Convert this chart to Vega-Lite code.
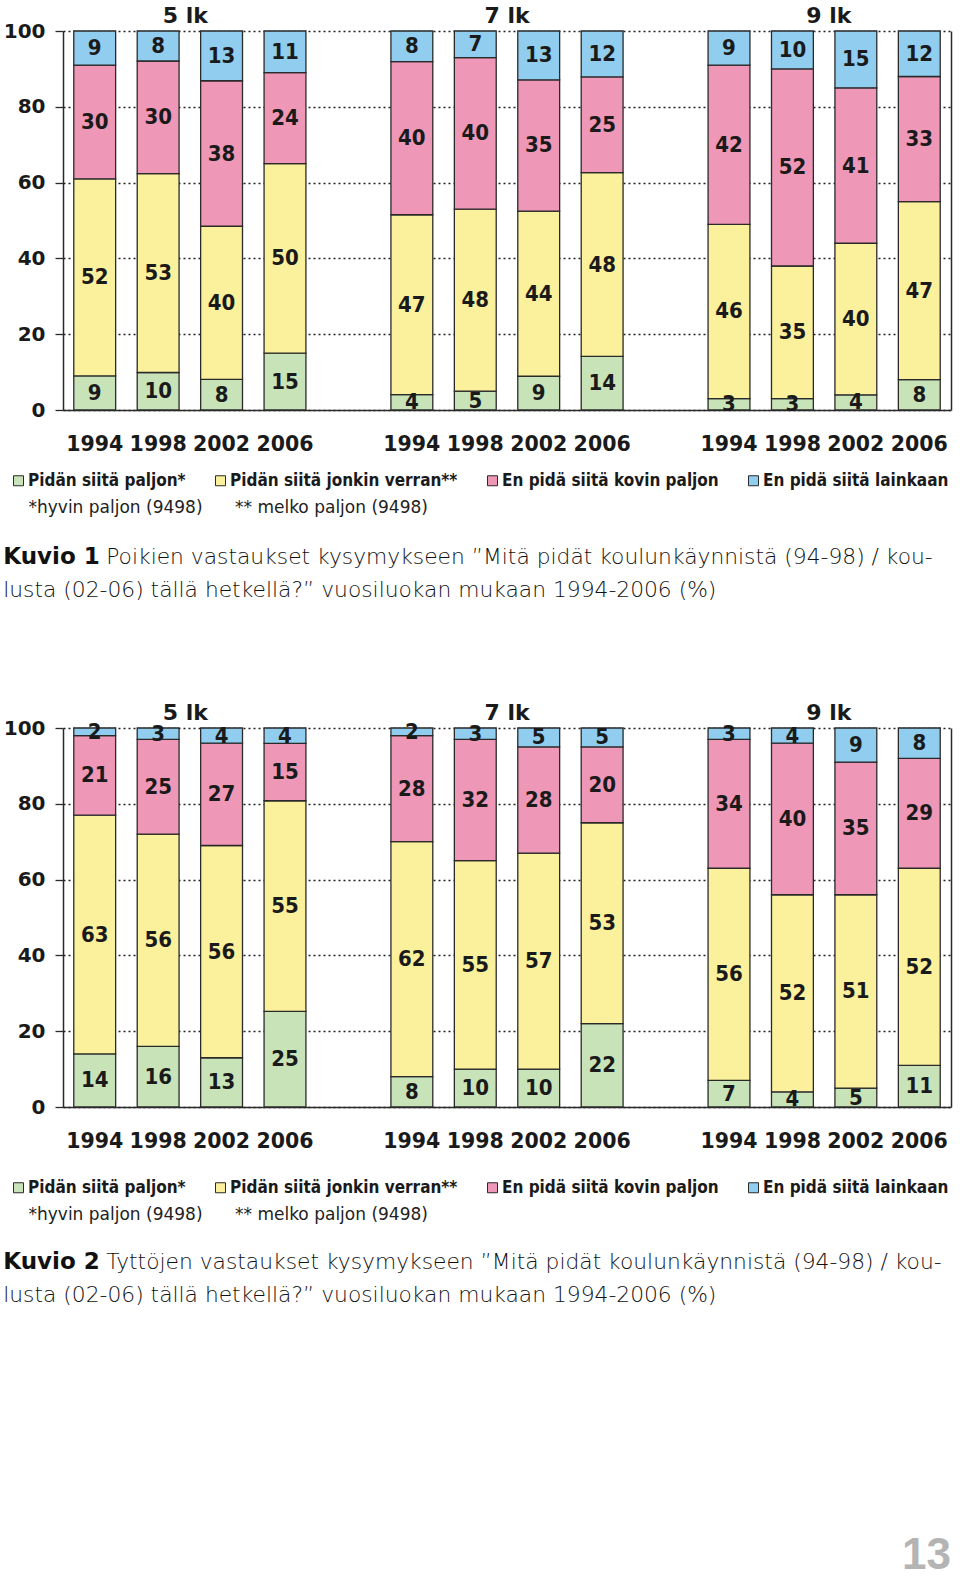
{
  "$schema": "https://vega.github.io/schema/vega-lite/v6.json",
  "background": "white",
  "padding": {"left": 3, "top": 5, "right": 5, "bottom": 5},
  "datasets": {
    "survey": [
      {"section":1,"grade":5,"year":1994,"cat":"Pidän siitä paljon*","value":9},
      {"section":1,"grade":5,"year":1994,"cat":"Pidän siitä jonkin verran**","value":52},
      {"section":1,"grade":5,"year":1994,"cat":"En pidä siitä kovin paljon","value":30},
      {"section":1,"grade":5,"year":1994,"cat":"En pidä siitä lainkaan","value":9},
      {"section":1,"grade":5,"year":1998,"cat":"Pidän siitä paljon*","value":10},
      {"section":1,"grade":5,"year":1998,"cat":"Pidän siitä jonkin verran**","value":53},
      {"section":1,"grade":5,"year":1998,"cat":"En pidä siitä kovin paljon","value":30},
      {"section":1,"grade":5,"year":1998,"cat":"En pidä siitä lainkaan","value":8},
      {"section":1,"grade":5,"year":2002,"cat":"Pidän siitä paljon*","value":8},
      {"section":1,"grade":5,"year":2002,"cat":"Pidän siitä jonkin verran**","value":40},
      {"section":1,"grade":5,"year":2002,"cat":"En pidä siitä kovin paljon","value":38},
      {"section":1,"grade":5,"year":2002,"cat":"En pidä siitä lainkaan","value":13},
      {"section":1,"grade":5,"year":2006,"cat":"Pidän siitä paljon*","value":15},
      {"section":1,"grade":5,"year":2006,"cat":"Pidän siitä jonkin verran**","value":50},
      {"section":1,"grade":5,"year":2006,"cat":"En pidä siitä kovin paljon","value":24},
      {"section":1,"grade":5,"year":2006,"cat":"En pidä siitä lainkaan","value":11},
      {"section":1,"grade":7,"year":1994,"cat":"Pidän siitä paljon*","value":4},
      {"section":1,"grade":7,"year":1994,"cat":"Pidän siitä jonkin verran**","value":47},
      {"section":1,"grade":7,"year":1994,"cat":"En pidä siitä kovin paljon","value":40},
      {"section":1,"grade":7,"year":1994,"cat":"En pidä siitä lainkaan","value":8},
      {"section":1,"grade":7,"year":1998,"cat":"Pidän siitä paljon*","value":5},
      {"section":1,"grade":7,"year":1998,"cat":"Pidän siitä jonkin verran**","value":48},
      {"section":1,"grade":7,"year":1998,"cat":"En pidä siitä kovin paljon","value":40},
      {"section":1,"grade":7,"year":1998,"cat":"En pidä siitä lainkaan","value":7},
      {"section":1,"grade":7,"year":2002,"cat":"Pidän siitä paljon*","value":9},
      {"section":1,"grade":7,"year":2002,"cat":"Pidän siitä jonkin verran**","value":44},
      {"section":1,"grade":7,"year":2002,"cat":"En pidä siitä kovin paljon","value":35},
      {"section":1,"grade":7,"year":2002,"cat":"En pidä siitä lainkaan","value":13},
      {"section":1,"grade":7,"year":2006,"cat":"Pidän siitä paljon*","value":14},
      {"section":1,"grade":7,"year":2006,"cat":"Pidän siitä jonkin verran**","value":48},
      {"section":1,"grade":7,"year":2006,"cat":"En pidä siitä kovin paljon","value":25},
      {"section":1,"grade":7,"year":2006,"cat":"En pidä siitä lainkaan","value":12},
      {"section":1,"grade":9,"year":1994,"cat":"Pidän siitä paljon*","value":3},
      {"section":1,"grade":9,"year":1994,"cat":"Pidän siitä jonkin verran**","value":46},
      {"section":1,"grade":9,"year":1994,"cat":"En pidä siitä kovin paljon","value":42},
      {"section":1,"grade":9,"year":1994,"cat":"En pidä siitä lainkaan","value":9},
      {"section":1,"grade":9,"year":1998,"cat":"Pidän siitä paljon*","value":3},
      {"section":1,"grade":9,"year":1998,"cat":"Pidän siitä jonkin verran**","value":35},
      {"section":1,"grade":9,"year":1998,"cat":"En pidä siitä kovin paljon","value":52},
      {"section":1,"grade":9,"year":1998,"cat":"En pidä siitä lainkaan","value":10},
      {"section":1,"grade":9,"year":2002,"cat":"Pidän siitä paljon*","value":4},
      {"section":1,"grade":9,"year":2002,"cat":"Pidän siitä jonkin verran**","value":40},
      {"section":1,"grade":9,"year":2002,"cat":"En pidä siitä kovin paljon","value":41},
      {"section":1,"grade":9,"year":2002,"cat":"En pidä siitä lainkaan","value":15},
      {"section":1,"grade":9,"year":2006,"cat":"Pidän siitä paljon*","value":8},
      {"section":1,"grade":9,"year":2006,"cat":"Pidän siitä jonkin verran**","value":47},
      {"section":1,"grade":9,"year":2006,"cat":"En pidä siitä kovin paljon","value":33},
      {"section":1,"grade":9,"year":2006,"cat":"En pidä siitä lainkaan","value":12},
      {"section":2,"grade":5,"year":1994,"cat":"Pidän siitä paljon*","value":14},
      {"section":2,"grade":5,"year":1994,"cat":"Pidän siitä jonkin verran**","value":63},
      {"section":2,"grade":5,"year":1994,"cat":"En pidä siitä kovin paljon","value":21},
      {"section":2,"grade":5,"year":1994,"cat":"En pidä siitä lainkaan","value":2},
      {"section":2,"grade":5,"year":1998,"cat":"Pidän siitä paljon*","value":16},
      {"section":2,"grade":5,"year":1998,"cat":"Pidän siitä jonkin verran**","value":56},
      {"section":2,"grade":5,"year":1998,"cat":"En pidä siitä kovin paljon","value":25},
      {"section":2,"grade":5,"year":1998,"cat":"En pidä siitä lainkaan","value":3},
      {"section":2,"grade":5,"year":2002,"cat":"Pidän siitä paljon*","value":13},
      {"section":2,"grade":5,"year":2002,"cat":"Pidän siitä jonkin verran**","value":56},
      {"section":2,"grade":5,"year":2002,"cat":"En pidä siitä kovin paljon","value":27},
      {"section":2,"grade":5,"year":2002,"cat":"En pidä siitä lainkaan","value":4},
      {"section":2,"grade":5,"year":2006,"cat":"Pidän siitä paljon*","value":25},
      {"section":2,"grade":5,"year":2006,"cat":"Pidän siitä jonkin verran**","value":55},
      {"section":2,"grade":5,"year":2006,"cat":"En pidä siitä kovin paljon","value":15},
      {"section":2,"grade":5,"year":2006,"cat":"En pidä siitä lainkaan","value":4},
      {"section":2,"grade":7,"year":1994,"cat":"Pidän siitä paljon*","value":8},
      {"section":2,"grade":7,"year":1994,"cat":"Pidän siitä jonkin verran**","value":62},
      {"section":2,"grade":7,"year":1994,"cat":"En pidä siitä kovin paljon","value":28},
      {"section":2,"grade":7,"year":1994,"cat":"En pidä siitä lainkaan","value":2},
      {"section":2,"grade":7,"year":1998,"cat":"Pidän siitä paljon*","value":10},
      {"section":2,"grade":7,"year":1998,"cat":"Pidän siitä jonkin verran**","value":55},
      {"section":2,"grade":7,"year":1998,"cat":"En pidä siitä kovin paljon","value":32},
      {"section":2,"grade":7,"year":1998,"cat":"En pidä siitä lainkaan","value":3},
      {"section":2,"grade":7,"year":2002,"cat":"Pidän siitä paljon*","value":10},
      {"section":2,"grade":7,"year":2002,"cat":"Pidän siitä jonkin verran**","value":57},
      {"section":2,"grade":7,"year":2002,"cat":"En pidä siitä kovin paljon","value":28},
      {"section":2,"grade":7,"year":2002,"cat":"En pidä siitä lainkaan","value":5},
      {"section":2,"grade":7,"year":2006,"cat":"Pidän siitä paljon*","value":22},
      {"section":2,"grade":7,"year":2006,"cat":"Pidän siitä jonkin verran**","value":53},
      {"section":2,"grade":7,"year":2006,"cat":"En pidä siitä kovin paljon","value":20},
      {"section":2,"grade":7,"year":2006,"cat":"En pidä siitä lainkaan","value":5},
      {"section":2,"grade":9,"year":1994,"cat":"Pidän siitä paljon*","value":7},
      {"section":2,"grade":9,"year":1994,"cat":"Pidän siitä jonkin verran**","value":56},
      {"section":2,"grade":9,"year":1994,"cat":"En pidä siitä kovin paljon","value":34},
      {"section":2,"grade":9,"year":1994,"cat":"En pidä siitä lainkaan","value":3},
      {"section":2,"grade":9,"year":1998,"cat":"Pidän siitä paljon*","value":4},
      {"section":2,"grade":9,"year":1998,"cat":"Pidän siitä jonkin verran**","value":52},
      {"section":2,"grade":9,"year":1998,"cat":"En pidä siitä kovin paljon","value":40},
      {"section":2,"grade":9,"year":1998,"cat":"En pidä siitä lainkaan","value":4},
      {"section":2,"grade":9,"year":2002,"cat":"Pidän siitä paljon*","value":5},
      {"section":2,"grade":9,"year":2002,"cat":"Pidän siitä jonkin verran**","value":51},
      {"section":2,"grade":9,"year":2002,"cat":"En pidä siitä kovin paljon","value":35},
      {"section":2,"grade":9,"year":2002,"cat":"En pidä siitä lainkaan","value":9},
      {"section":2,"grade":9,"year":2006,"cat":"Pidän siitä paljon*","value":11},
      {"section":2,"grade":9,"year":2006,"cat":"Pidän siitä jonkin verran**","value":52},
      {"section":2,"grade":9,"year":2006,"cat":"En pidä siitä kovin paljon","value":29},
      {"section":2,"grade":9,"year":2006,"cat":"En pidä siitä lainkaan","value":8}
    ]
  },
  "title": {"text": "13", "orient": "bottom", "anchor": "end", "frame": "bounds", "font": "Liberation Sans", "fontWeight": "bold", "fontSize": 44, "color": "#b4b4b4", "offset": 227},
  "spacing": 100,
  "resolve": {"scale": {"color": "independent"}, "legend": {"color": "independent"}},
  "vconcat": [
    {
      "title": {"text": "Kuvio 1", "subtitle": "lusta (02-06) tällä hetkellä?” vuosiluokan mukaan 1994-2006 (%)", "orient": "bottom", "anchor": "start", "frame": "bounds", "font": "DejaVu Sans", "fontWeight": "bold", "fontSize": 23, "color": "#111111", "subtitleFont": "DejaVu Sans", "subtitleFontWeight": 200, "subtitleFontSize": 21.8, "subtitleColor": "#111111", "subtitlePadding": 11, "offset": -23},
      "resolve": {"scale": {"color": "independent"}, "legend": {"color": "independent"}},
      "vconcat": [
        {
          "width": 888,
          "height": 379,
          "title": {"text": "Poikien vastaukset kysymykseen ”Mitä pidät koulunkäynnistä (94-98) / kou-", "orient": "bottom", "anchor": "start", "frame": "bounds", "dx": 103, "font": "DejaVu Sans", "fontWeight": 200, "fontSize": 21.8, "color": "#111111", "offset": 32},
          "layer": [
            {
              "data": {"name": "survey"},
              "transform": [
                {"filter": "datum.section == 1"},
                {"calculate": "datum.grade + '-' + datum.year", "as": "slot"},
                {"calculate": "indexof(['Pidän siitä paljon*','Pidän siitä jonkin verran**','En pidä siitä kovin paljon','En pidä siitä lainkaan'], datum.cat)", "as": "ord"},
                {"stack": "value", "groupby": ["slot"], "sort": [{"field": "ord", "order": "ascending"}], "offset": "normalize", "as": ["v0", "v1"]}
              ],
              "mark": {"type": "bar", "stroke": "#2a2a2a", "strokeWidth": 1.3},
              "encoding": {
                "x": {"field": "slot", "type": "nominal",
                  "scale": {"type": "band", "domain": ["5-1994","5-1998","5-2002","5-2006","g1","7-1994","7-1998","7-2002","7-2006","g2","9-1994","9-1998","9-2002","9-2006"], "paddingInner": 0.34, "paddingOuter": 0.17},
                  "axis": {"labelExpr": "length(datum.value) > 2 ? slice(datum.value, 2) : ''", "labelAngle": 0, "labelFont": "DejaVu Sans", "labelFontWeight": "bold", "labelFontSize": 20.5, "labelColor": "#1a1a1a", "labelPadding": 24, "ticks": false, "domainColor": "#2a2a2a", "domainWidth": 1.5,
                    "title": "*hyvin paljon (9498)\u00a0\u00a0\u00a0\u00a0\u00a0\u00a0** melko paljon (9498)", "titleFont": "DejaVu Sans", "titleFontWeight": "normal", "titleFontSize": 17, "titleColor": "#222222", "titleAlign": "left", "titleBaseline": "alphabetic", "titleX": -35, "titleY": 102}},
                "y": {"field": "v0", "type": "quantitative", "scale": {"domain": [0, 1], "nice": false},
                  "axis": {"orient": "left", "values": [0, 0.2, 0.4, 0.6, 0.8, 1], "labelExpr": "round(datum.value * 100)", "labelFont": "DejaVu Sans", "labelFontWeight": "bold", "labelFontSize": 20, "labelColor": "#1a1a1a", "tickSize": 8, "tickColor": "#2a2a2a", "tickWidth": 1.3, "labelPadding": 10, "domainColor": "#2a2a2a", "domainWidth": 1.5, "grid": true, "gridDash": [2, 3], "gridColor": "#222222", "gridWidth": 1.3, "title": null}},
                "y2": {"field": "v1"},
                "color": {"field": "cat", "type": "nominal",
                  "scale": {"domain": ["Pidän siitä paljon*","Pidän siitä jonkin verran**","En pidä siitä kovin paljon","En pidä siitä lainkaan"], "range": ["#c9e3b9", "#fbf09b", "#ee97b6", "#90cdee"]},
                  "legend": {"orient": "none", "legendX": -53, "legendY": 441, "direction": "horizontal", "columns": 4, "title": null, "symbolType": "square", "symbolSize": 100, "symbolStrokeColor": "#2a2a2a", "symbolStrokeWidth": 1, "symbolOpacity": 1, "labelFont": "DejaVu Sans Condensed, DejaVu Sans", "labelFontWeight": "bold", "labelFontSize": 17, "labelColor": "#1a1a1a", "columnPadding": 26, "labelOffset": 1, "padding": 0, "labelLimit": 400}}
              }
            },
            {
              "data": {"name": "survey"},
              "transform": [
                {"filter": "datum.section == 1"},
                {"calculate": "datum.grade + '-' + datum.year", "as": "slot"},
                {"calculate": "indexof(['Pidän siitä paljon*','Pidän siitä jonkin verran**','En pidä siitä kovin paljon','En pidä siitä lainkaan'], datum.cat)", "as": "ord"},
                {"stack": "value", "groupby": ["slot"], "sort": [{"field": "ord", "order": "ascending"}], "offset": "normalize", "as": ["v0", "v1"]},
                {"calculate": "(datum.v0 + datum.v1) / 2", "as": "mid"}
              ],
              "mark": {"type": "text", "font": "DejaVu Sans Condensed, DejaVu Sans", "fontWeight": "bold", "fontSize": 22, "color": "#1a1a1a", "baseline": "middle"},
              "encoding": {
                "x": {"field": "slot", "type": "nominal",
                  "scale": {"type": "band", "domain": ["5-1994","5-1998","5-2002","5-2006","g1","7-1994","7-1998","7-2002","7-2006","g2","9-1994","9-1998","9-2002","9-2006"], "paddingInner": 0.34, "paddingOuter": 0.17},
                  "axis": null},
                "y": {"field": "mid", "type": "quantitative", "scale": {"domain": [0, 1], "nice": false},
                  "axis": {"orient": "right", "labels": false, "ticks": false, "grid": false, "domainColor": "#2a2a2a", "domainWidth": 1.5, "title": null}},
                "text": {"field": "value", "type": "quantitative"}
              }
            },
            {
              "data": {"values": [{"grade": "5 lk"}, {"grade": "7 lk"}, {"grade": "9 lk"}]},
              "mark": {"type": "text", "font": "DejaVu Sans", "fontWeight": "bold", "fontSize": 22, "color": "#1a1a1a", "baseline": "alphabetic", "dy": -8},
              "encoding": {
                "x": {"field": "grade", "type": "nominal", "scale": {"type": "point", "padding": 0.38}, "axis": null},
                "y": {"datum": 1, "type": "quantitative", "axis": null},
                "text": {"field": "grade"}
              }
            }
          ],
          "resolve": {"scale": {"x": "independent"}, "axis": {"y": "independent"}}
        }
      ]
    },
    {
      "title": {"text": "Kuvio 2", "subtitle": "lusta (02-06) tällä hetkellä?” vuosiluokan mukaan 1994-2006 (%)", "orient": "bottom", "anchor": "start", "frame": "bounds", "font": "DejaVu Sans", "fontWeight": "bold", "fontSize": 23, "color": "#111111", "subtitleFont": "DejaVu Sans", "subtitleFontWeight": 200, "subtitleFontSize": 21.8, "subtitleColor": "#111111", "subtitlePadding": 11, "offset": -23},
      "resolve": {"scale": {"color": "independent"}, "legend": {"color": "independent"}},
      "vconcat": [
        {
          "width": 888,
          "height": 379,
          "title": {"text": "Tyttöjen vastaukset kysymykseen ”Mitä pidät koulunkäynnistä (94-98) / kou-", "orient": "bottom", "anchor": "start", "frame": "bounds", "dx": 103, "font": "DejaVu Sans", "fontWeight": 200, "fontSize": 21.8, "color": "#111111", "offset": 30},
          "layer": [
            {
              "data": {"name": "survey"},
              "transform": [
                {"filter": "datum.section == 2"},
                {"calculate": "datum.grade + '-' + datum.year", "as": "slot"},
                {"calculate": "indexof(['Pidän siitä paljon*','Pidän siitä jonkin verran**','En pidä siitä kovin paljon','En pidä siitä lainkaan'], datum.cat)", "as": "ord"},
                {"stack": "value", "groupby": ["slot"], "sort": [{"field": "ord", "order": "ascending"}], "offset": "normalize", "as": ["v0", "v1"]}
              ],
              "mark": {"type": "bar", "stroke": "#2a2a2a", "strokeWidth": 1.3},
              "encoding": {
                "x": {"field": "slot", "type": "nominal",
                  "scale": {"type": "band", "domain": ["5-1994","5-1998","5-2002","5-2006","g1","7-1994","7-1998","7-2002","7-2006","g2","9-1994","9-1998","9-2002","9-2006"], "paddingInner": 0.34, "paddingOuter": 0.17},
                  "axis": {"labelExpr": "length(datum.value) > 2 ? slice(datum.value, 2) : ''", "labelAngle": 0, "labelFont": "DejaVu Sans", "labelFontWeight": "bold", "labelFontSize": 20.5, "labelColor": "#1a1a1a", "labelPadding": 24, "ticks": false, "domainColor": "#2a2a2a", "domainWidth": 1.5,
                    "title": "*hyvin paljon (9498)\u00a0\u00a0\u00a0\u00a0\u00a0\u00a0** melko paljon (9498)", "titleFont": "DejaVu Sans", "titleFontWeight": "normal", "titleFontSize": 17, "titleColor": "#222222", "titleAlign": "left", "titleBaseline": "alphabetic", "titleX": -35, "titleY": 112}},
                "y": {"field": "v0", "type": "quantitative", "scale": {"domain": [0, 1], "nice": false},
                  "axis": {"orient": "left", "values": [0, 0.2, 0.4, 0.6, 0.8, 1], "labelExpr": "round(datum.value * 100)", "labelFont": "DejaVu Sans", "labelFontWeight": "bold", "labelFontSize": 20, "labelColor": "#1a1a1a", "tickSize": 8, "tickColor": "#2a2a2a", "tickWidth": 1.3, "labelPadding": 10, "domainColor": "#2a2a2a", "domainWidth": 1.5, "grid": true, "gridDash": [2, 3], "gridColor": "#222222", "gridWidth": 1.3, "title": null}},
                "y2": {"field": "v1"},
                "color": {"field": "cat", "type": "nominal",
                  "scale": {"domain": ["Pidän siitä paljon*","Pidän siitä jonkin verran**","En pidä siitä kovin paljon","En pidä siitä lainkaan"], "range": ["#c9e3b9", "#fbf09b", "#ee97b6", "#90cdee"]},
                  "legend": {"orient": "none", "legendX": -53, "legendY": 451, "direction": "horizontal", "columns": 4, "title": null, "symbolType": "square", "symbolSize": 100, "symbolStrokeColor": "#2a2a2a", "symbolStrokeWidth": 1, "symbolOpacity": 1, "labelFont": "DejaVu Sans Condensed, DejaVu Sans", "labelFontWeight": "bold", "labelFontSize": 17, "labelColor": "#1a1a1a", "columnPadding": 26, "labelOffset": 1, "padding": 0, "labelLimit": 400}}
              }
            },
            {
              "data": {"name": "survey"},
              "transform": [
                {"filter": "datum.section == 2"},
                {"calculate": "datum.grade + '-' + datum.year", "as": "slot"},
                {"calculate": "indexof(['Pidän siitä paljon*','Pidän siitä jonkin verran**','En pidä siitä kovin paljon','En pidä siitä lainkaan'], datum.cat)", "as": "ord"},
                {"stack": "value", "groupby": ["slot"], "sort": [{"field": "ord", "order": "ascending"}], "offset": "normalize", "as": ["v0", "v1"]},
                {"calculate": "(datum.v0 + datum.v1) / 2", "as": "mid"}
              ],
              "mark": {"type": "text", "font": "DejaVu Sans Condensed, DejaVu Sans", "fontWeight": "bold", "fontSize": 22, "color": "#1a1a1a", "baseline": "middle"},
              "encoding": {
                "x": {"field": "slot", "type": "nominal",
                  "scale": {"type": "band", "domain": ["5-1994","5-1998","5-2002","5-2006","g1","7-1994","7-1998","7-2002","7-2006","g2","9-1994","9-1998","9-2002","9-2006"], "paddingInner": 0.34, "paddingOuter": 0.17},
                  "axis": null},
                "y": {"field": "mid", "type": "quantitative", "scale": {"domain": [0, 1], "nice": false},
                  "axis": {"orient": "right", "labels": false, "ticks": false, "grid": false, "domainColor": "#2a2a2a", "domainWidth": 1.5, "title": null}},
                "text": {"field": "value", "type": "quantitative"}
              }
            },
            {
              "data": {"values": [{"grade": "5 lk"}, {"grade": "7 lk"}, {"grade": "9 lk"}]},
              "mark": {"type": "text", "font": "DejaVu Sans", "fontWeight": "bold", "fontSize": 22, "color": "#1a1a1a", "baseline": "alphabetic", "dy": -8},
              "encoding": {
                "x": {"field": "grade", "type": "nominal", "scale": {"type": "point", "padding": 0.38}, "axis": null},
                "y": {"datum": 1, "type": "quantitative", "axis": null},
                "text": {"field": "grade"}
              }
            }
          ],
          "resolve": {"scale": {"x": "independent"}, "axis": {"y": "independent"}}
        }
      ]
    }
  ],
  "config": {"view": {"stroke": null}}
}
